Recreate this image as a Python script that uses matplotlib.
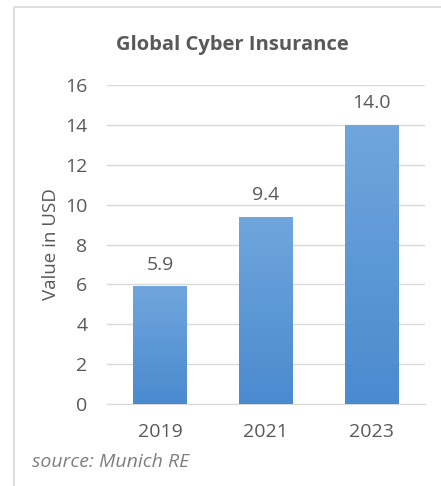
import numpy as np
import matplotlib
matplotlib.use("Agg")
from matplotlib import pyplot as plt
from matplotlib.patches import Rectangle

plt.rcParams['font.family'] = ['Open Sans', 'DejaVu Sans']

years = ['2019', '2021', '2023']
values = [5.9, 9.4, 14.0]
yticks = [0, 2, 4, 6, 8, 10, 12, 14, 16]

gray = '#595959'

fig = plt.figure(figsize=(4.41, 4.86), dpi=100)
ax = fig.add_axes([0.2426, 0.1687, 0.72, 0.6564])

x = np.arange(len(years))
bars = ax.bar(x, values, width=0.51, color='#5b9bd5', zorder=3)

# vertical gradient inside the bars
grad = np.linspace(0, 1, 256).reshape(-1, 1)
cmap = matplotlib.colors.LinearSegmentedColormap.from_list('g', ['#4a8acf', '#70a6dd'])
for b in bars:
    im = ax.imshow(grad, cmap=cmap, origin='lower', aspect='auto',
                   extent=[b.get_x(), b.get_x() + b.get_width(), 0, b.get_height()], zorder=4)
    im.set_clip_path(b)

for xi, v in zip(x, values):
    ax.annotate(f'{v:.1f}', (xi, v), xytext=(0, 9), textcoords='offset points',
                ha='center', va='bottom', fontsize=14, color=gray)

ax.set_xlim(-0.5, 2.5)
ax.set_ylim(0, 16)
ax.set_yticks(yticks)
ax.set_xticks(x)
ax.set_xticklabels(years)
ax.tick_params(axis='both', length=0, labelsize=14, labelcolor=gray)
ax.tick_params(axis='y', pad=14)
ax.tick_params(axis='x', pad=14)
ax.yaxis.grid(True, color='#d9d9d9', linewidth=1, zorder=0)
for s in ['top', 'right', 'left']:
    ax.spines[s].set_visible(False)
ax.spines['bottom'].set_color('#d9d9d9')
ax.set_ylabel('Value in USD', fontsize=13.5, color=gray, labelpad=4)

fig.text(0.528, 0.907, 'Global Cyber Insurance', ha='center', va='center',
         fontsize=14.5, fontweight='bold', color=gray)
fig.text(0.073, 0.049, 'source: Munich RE', ha='left', va='center',
         fontsize=14, style='italic', color='#7f7f7f')

# outer frame of the chart area
fig.add_artist(Rectangle((14 / 441, -0.1), 1.2, 1.1 - 7 / 486, transform=fig.transFigure,
                         fill=False, edgecolor='#d9d9d9', linewidth=1.2))

fig.savefig('out.png', dpi=100)
